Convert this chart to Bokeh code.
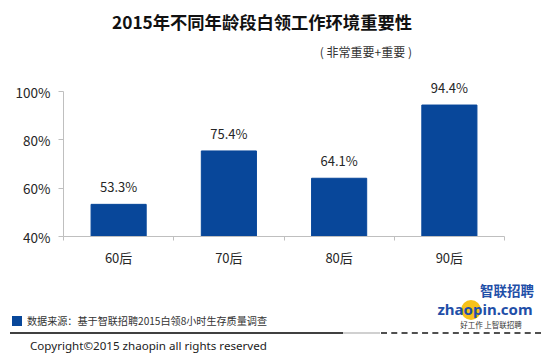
from bokeh.plotting import figure
from bokeh.models import (ColumnDataSource, Range1d, FixedTicker, PrintfTickFormatter,
                          LabelSet, Div)
from bokeh.layouts import column
from bokeh.core.properties import value
from bokeh.embed import file_html
from bokeh.resources import INLINE

# ---- data ----
categories = ["60后", "70后", "80后", "90后"]
values = [53.3, 75.4, 64.1, 94.4]
y_ticks = [40, 60, 80, 100]

title_text = "2015年不同年龄段白领工作环境重要性"
subtitle_text = "( 非常重要+重要 )"
source_text = "数据来源：基于智联招聘2015白领8小时生存质量调查"
copyright_text = "Copyright©2015 zhaopin all rights reserved"

CJK = "Noto Sans CJK SC"
BLUE = "#08479A"
TEXT = "#262626"
W = 550

# ---- layout (page pixels) ----
FIG_TOP = 66            # header div: page y 0..66
HEAD_H = FIG_TOP
FRAME_TOP_VAL_PX = 91   # page y of 100%
FRAME_BOT_PX = 236      # page y of 40%
FIG_BOTTOM = 280
FOOT_H = 358 - FIG_BOTTOM

units_per_px = (y_ticks[-1] - y_ticks[0]) / (FRAME_BOT_PX - FRAME_TOP_VAL_PX)
y_top = y_ticks[-1] + (FRAME_TOP_VAL_PX - FIG_TOP) * units_per_px

xs = [i + 0.5 for i in range(len(categories))]
src = ColumnDataSource(dict(x=xs, v=values, lab=[f"{v:.1f}%" for v in values]))

p = figure(width=W, height=FIG_BOTTOM - FIG_TOP, output_backend="svg", toolbar_location=None,
           x_range=Range1d(0, len(categories)), y_range=Range1d(y_ticks[0], y_top),
           min_border_left=63, min_border_right=46, min_border_top=0,
           min_border_bottom=FIG_BOTTOM - FRAME_BOT_PX, margin=(0, 0, 0, 0))
p.outline_line_color = None
p.xgrid.visible = False
p.ygrid.visible = False

p.vbar(x="x", top="v", bottom=y_ticks[0], width=0.5, source=src,
       fill_color=BLUE, line_color=BLUE)

p.add_layout(LabelSet(x="x", y="v", text="lab", source=src, text_align="center",
                      text_baseline="bottom", y_offset=8, text_font=value(CJK),
                      text_font_size="13px", text_color=TEXT))

# x axis: labels at category centres, minor ticks at category boundaries
xa = p.xaxis[0]
xa.ticker = FixedTicker(ticks=xs, minor_ticks=list(range(len(categories) + 1)))
xa.major_label_overrides = {x: c for x, c in zip(xs, categories)}
xa.major_tick_out = 0
xa.major_tick_in = 0
xa.minor_tick_out = 4
xa.minor_tick_in = 0
xa.minor_tick_line_color = "#BFBFBF"
xa.axis_line_color = "#BFBFBF"
xa.major_label_standoff = 7
xa.major_label_text_font = CJK
xa.major_label_text_font_size = "13px"
xa.major_label_text_color = TEXT

# y axis
ya = p.yaxis[0]
ya.ticker = FixedTicker(ticks=y_ticks)
ya.bounds = (y_ticks[0], y_ticks[-1])
ya.formatter = PrintfTickFormatter(format="%d%%")
ya.major_tick_out = 5
ya.major_tick_in = 0
ya.minor_tick_out = 0
ya.minor_tick_in = 0
ya.major_tick_line_color = "#BFBFBF"
ya.axis_line_color = "#BFBFBF"
ya.major_label_standoff = 8
ya.major_label_text_font = CJK
ya.major_label_text_font_size = "13.5px"
ya.major_label_text_color = TEXT


def span(text, left, cy, size, color=TEXT, bold=False, align="left", font=CJK, lh=20, extra=""):
    if align == "center":
        pos = f"left:{left - 200}px;width:400px;text-align:center;"
    elif align == "right":
        pos = f"left:{left - 400}px;width:400px;text-align:right;"
    else:
        pos = f"left:{left}px;"
    return (f'<div style="position:absolute;{pos}top:{cy - lh / 2}px;height:{lh}px;'
            f'line-height:{lh}px;white-space:nowrap;font-family:\'{font}\';font-size:{size};'
            f'color:{color};font-weight:{"bold" if bold else "normal"};{extra}">{text}</div>')


def box(left, top, w, h, style):
    return (f'<div style="position:absolute;left:{left}px;top:{top}px;width:{w}px;'
            f'height:{h}px;{style}"></div>')


header_html = ('<div style="position:relative;width:550px;height:%dpx;">' % HEAD_H
               + span(title_text, 262, 22, "17.3px", color="#111111", bold=True, align="center")
               + span(subtitle_text, 412, 52, "12px", color="#333333", align="right")
               + '</div>')
header = Div(text=header_html, width=W, height=HEAD_H, margin=(0, 0, 0, 0))

o = FIG_BOTTOM  # footer offset
footer_html = ('<div style="position:relative;width:550px;height:%dpx;">' % FOOT_H
               # logo approximation
               + box(461, 300 - o, 20, 20, "border-radius:10px;background:#F7C21A;")
               + span("智联招聘", 507, 290 - o, "13.5px", color="#1F4FA8", bold=True,
                      align="center", lh=15)
               + span("zhaopin.com", 485, 308.5 - o, "15px", color="#1F4FA8", bold=True,
                      align="center", font="Noto Sans", lh=16)
               + span("好工作 上智联招聘", 491, 324 - o, "7.5px", color="#333333",
                      align="center", lh=9)
               # source note
               + box(12, 316 - o, 10, 10, f"background:{BLUE};")
               + span(source_text, 27, 321 - o, "10.1px", color="#333333")
               # separator line
               + box(10, 332 - o, 333, 2, "background:#404040;")
               + box(343, 332 - o, 37, 2, "background:#D0D0D0;")
               + box(381, 332 - o, 160, 0, "border-top:2px dashed #505050;")
               # copyright
               + span(copyright_text, 30, 346 - o, "11.6px", color="#222222", font="Noto Sans")
               + '</div>')
footer = Div(text=footer_html, width=W, height=FOOT_H, margin=(0, 0, 0, 0))

layout = column(header, p, footer, spacing=0, margin=(0, 0, 0, 0))
open("out.html", "w").write(file_html(layout, INLINE))
